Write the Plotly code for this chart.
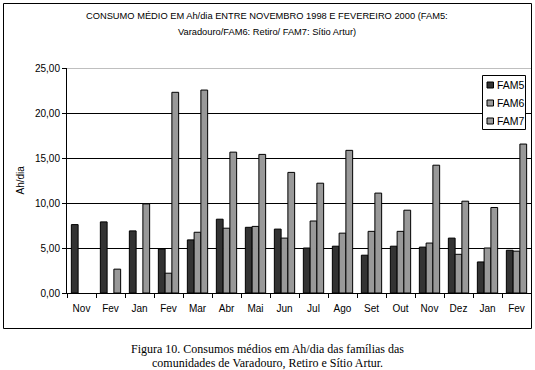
import plotly.graph_objects as go

months = ["Nov", "Fev", "Jan", "Fev", "Mar", "Abr", "Mai", "Jun", "Jul", "Ago",
          "Set", "Out", "Nov", "Dez", "Jan", "Fev"]
fam5 = [7.6, 7.9, 6.9, 4.9, 5.9, 8.2, 7.3, 7.1, 5.0, 5.2, 4.2, 5.2, 5.1, 6.1, 3.45, 4.75]
fam6 = [None, None, None, 2.2, 6.75, 7.2, 7.4, 6.1, 8.0, 6.65, 6.85, 6.85, 5.55, 4.3, 5.0, 4.65]
fam7 = [None, 2.65, 9.9, 22.3, 22.55, 15.65, 15.4, 13.4, 12.2, 15.85, 11.1, 9.2, 14.2, 10.2, 9.5, 16.55]
series_names = ["FAM5", "FAM6", "FAM7"]
series_colors = ["#333333", "#999999", "#999999"]
y_ticks = [0, 5, 10, 15, 20, 25]

title_lines = ["CONSUMO MÉDIO EM Ah/dia ENTRE NOVEMBRO 1998 E FEVEREIRO 2000 (FAM5:",
               "Varadouro/FAM6: Retiro/ FAM7: Sítio Artur)"]
caption_lines = ["Figura 10. Consumos médios em Ah/dia das famílias das",
                 "comunidades de Varadouro, Retiro e Sítio Artur."]

idx = list(range(len(months)))

fig = go.Figure()
for name, vals, col in zip(series_names, [fam5, fam6, fam7], series_colors):
    fig.add_trace(go.Bar(x=idx, y=vals, name=name, showlegend=False,
                         marker=dict(color=col, line=dict(color="black", width=1))))

W, H = 535, 370
L, R, T, B = 67, 4, 68, 77
pw, ph = W - L - R, H - T - B

def px_x(x):
    return (x - L) / pw

def px_y(y):
    return (H - B - y) / ph

font = "Liberation Sans, Arial, sans-serif"

fig.update_layout(
    width=W, height=H,
    margin=dict(l=L, r=R, t=T, b=B, pad=0),
    paper_bgcolor="white", plot_bgcolor="white",
    separators=",.",
    barmode="group", bargap=0.3, bargroupgap=0,
    font=dict(family=font, size=10, color="black"),
    showlegend=False,
    xaxis=dict(range=[-0.5, len(months) - 0.5], tickmode="array", tickvals=idx, ticktext=months,
               ticks="", showgrid=False, showline=True, linecolor="black", linewidth=1,
               ticklabelstandoff=6, zeroline=False,
               minor=dict(tickmode="array", tickvals=[i - 0.5 for i in range(len(months) + 1)],
                          ticks="outside", ticklen=4, tickcolor="black", showgrid=False)),
    yaxis=dict(range=[0, 25], tickmode="array", tickvals=y_ticks, tickformat=".2f",
               ticks="outside", ticklen=4, tickcolor="black",
               showgrid=True, gridcolor="black", gridwidth=1,
               showline=True, linecolor="black", linewidth=1, zeroline=False),
)

# top gridline lighter
fig.add_shape(type="line", xref="paper", yref="y", x0=0, x1=1, y0=25, y1=25,
              line=dict(color="#808080", width=1), layer="above")
# outer chart frame
fig.add_shape(type="rect", xref="paper", yref="paper",
              x0=px_x(3.5), x1=px_x(531.5), y0=px_y(328.5), y1=px_y(3.5),
              line=dict(color="black", width=1), layer="above")

# legend box (custom, built from the series lists)
fig.add_shape(type="rect", xref="paper", yref="paper",
              x0=px_x(482.5), x1=px_x(525.5), y0=px_y(129.5), y1=px_y(75.5),
              line=dict(color="black", width=1), fillcolor="white", layer="above")
for i, (name, col) in enumerate(zip(series_names, series_colors)):
    cy = 85 + i * 18
    fig.add_shape(type="rect", xref="paper", yref="paper",
                  x0=px_x(487), x1=px_x(493.5), y0=px_y(cy + 3), y1=px_y(cy - 3),
                  line=dict(color="black", width=1), fillcolor=col, layer="above")
    fig.add_annotation(text=name, xref="paper", yref="paper", x=px_x(495), y=px_y(cy),
                       showarrow=False, xanchor="left", yanchor="middle",
                       font=dict(family=font, size=10.5, color="black"))

# title
for txt, yy in zip(title_lines, [16, 32]):
    fig.add_annotation(text=txt, xref="paper", yref="paper", x=px_x(267), y=px_y(yy),
                       showarrow=False, xanchor="center", yanchor="middle",
                       font=dict(family=font, size=9.3, color="black"))
# y axis title
fig.add_annotation(text="Ah/dia", xref="paper", yref="paper", x=px_x(20), y=0.5,
                   showarrow=False, textangle=-90, xanchor="center", yanchor="middle",
                   font=dict(family=font, size=10, color="black"))
# caption
for txt, yy in zip(caption_lines, [349, 363]):
    fig.add_annotation(text=txt, xref="paper", yref="paper", x=px_x(267), y=px_y(yy),
                       showarrow=False, xanchor="center", yanchor="middle",
                       font=dict(family="Liberation Serif, Times New Roman, serif", size=12, color="black"))

fig.write_html("out.html", config={"displayModeBar": False},
               post_script="document.body.style.margin='0';document.body.style.overflow='hidden';")
